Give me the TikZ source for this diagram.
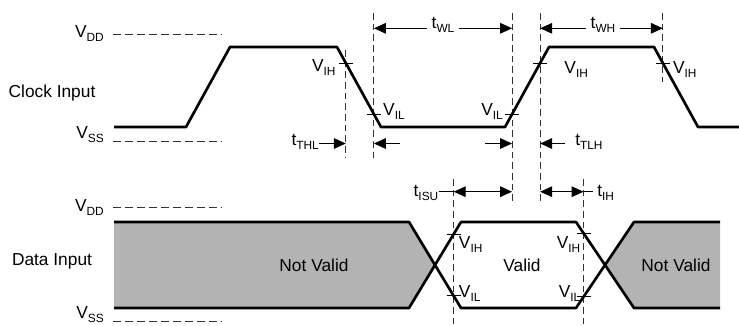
\documentclass[tikz,border=0pt]{standalone}
\usepackage{fontspec}
\setmainfont{Liberation Sans}
\usetikzlibrary{arrows.meta,calc}

\definecolor{notvalid}{RGB}{179,179,179}
\newcommand{\tsub}[2]{#1\raisebox{-3pt}{\fontsize{8.9}{9}\selectfont #2}}

\begin{document}
\begin{tikzpicture}[x=0.75pt, y=-0.75pt, line join=round, font=\fontsize{13}{15}\selectfont]

%---- STYLES ----
\tikzset{
    wave/.style={line width=2pt},
    level/.style={black!80, line width=0.75pt, dash pattern=on 6pt off 3pt},
    guide/.style={black!80, line width=0.75pt, dash pattern=on 5pt off 3pt},
    tick/.style={line width=0.75pt},
    dim/.style={line width=0.75pt, -{Triangle[length=9pt,width=8pt]}},
    dimboth/.style={line width=0.75pt, {Triangle[length=9pt,width=8pt]}-{Triangle[length=9pt,width=8pt]}},
    lbl/.style={inner sep=0pt},
    dlbl/.style={inner xsep=3pt, inner ysep=0pt},
}

\useasboundingbox (0,0) rectangle (739,325);

% LEVELS
\def\ckH{47}  \def\ckL{127}
\def\dtH{222} \def\dtL{308}
\def\rowW{28.3} \def\rowT{143.5} \def\rowS{191.7}

%---- CLOCK EDGES ----
\coordinate (r0a) at (186,\ckL); \coordinate (r0b) at (230,\ckH);
\coordinate (f1a) at (337,\ckH); \coordinate (f1b) at (381,\ckL);
\coordinate (r1a) at (505,\ckL); \coordinate (r1b) at (549,\ckH);
\coordinate (f2a) at (654,\ckH); \coordinate (f2b) at (698,\ckL);

% threshold crossings
\coordinate (f1ih) at ($(f1a)!0.2!(f1b)$);
\coordinate (f1il) at ($(f1a)!0.84!(f1b)$);
\coordinate (r1il) at ($(r1a)!0.16!(r1b)$);
\coordinate (r1ih) at ($(r1a)!0.8!(r1b)$);
\coordinate (f2ih) at ($(f2a)!0.2!(f2b)$);

%---- DATA EDGES ----
\coordinate (d1a) at (409,\dtH); \coordinate (d1d) at (409,\dtL);
\coordinate (d1c) at (461,\dtH); \coordinate (d1b) at (461,\dtL);
\coordinate (d1x) at (435,265);
\coordinate (d2a) at (576,\dtH); \coordinate (d2d) at (576,\dtL);
\coordinate (d2c) at (634,\dtH); \coordinate (d2b) at (634,\dtL);
\coordinate (d2x) at (605,265);

\coordinate (dih) at ($(d1d)!0.86!(d1c)$);
\coordinate (dil) at ($(d1a)!0.86!(d1b)$);
\coordinate (eih) at ($(d2a)!0.13!(d2b)$);
\coordinate (eil) at ($(d2d)!0.13!(d2c)$);

%---- GRAY (NOT VALID) ----
\fill[notvalid] (114,\dtH) -- (d1a) -- (d1x) -- (d1d) -- (114,\dtL) -- cycle;
\fill[notvalid] (720,\dtH) -- (d2c) -- (d2x) -- (d2b) -- (720,\dtL) -- cycle;

%---- GUIDES ----
\draw[guide] (f1ih |- 0,50) -- (f1ih |- 0,158);
\draw[guide] (f1il |- 0,13) -- (f1il |- 0,158);
\draw[guide] (r1il |- 0,13) -- (r1il |- 0,205);
\draw[guide] (r1ih |- 0,13) -- (r1ih |- 0,205);
\draw[guide] (f2ih |- 0,13) -- (f2ih |- 0,82);
\draw[guide] (dih |- 0,179) -- (dih |- 0,325);
\draw[guide] (eih |- 0,179) -- (eih |- 0,325);

%---- WAVES ----
\draw[wave] (114,\ckL) -- (r0a) -- (r0b) -- (f1a) -- (f1b) -- (r1a) -- (r1b) -- (f2a) -- (f2b) -- (739,\ckL);
\draw[wave] (114,\dtH) -- (d1a) -- (d1b) -- (d2d) -- (d2c) -- (720,\dtH);
\draw[wave] (114,\dtL) -- (d1d) -- (d1c) -- (d2a) -- (d2b) -- (720,\dtL);

% ticks
\foreach \p in {f1ih,f1il,r1il,r1ih,f2ih,dih,dil,eih,eil}
    \draw[tick] ($(\p)+(-7,0)$) -- ($(\p)+(7,0)$);

%---- SUPPLY LEVELS ----
\node[lbl, anchor=base east] (vdd1) at (104,37) {\tsub{V}{DD}};
\node[lbl, anchor=base east] (vss1) at (104,138.3) {\tsub{V}{SS}};
\node[lbl, anchor=base east] (vdd2) at (104,211.7) {\tsub{V}{DD}};
\node[lbl, anchor=base east] (vss2) at (104,318.3) {\tsub{V}{SS}};
\draw[level] (113,34.5) -- (222,34.5);
\draw[level] (113,141.7) -- (222,141.7);
\draw[level] (113,207.3) -- (222,207.3);
\draw[level] (113,321.7) -- (222,321.7);

\node[lbl, anchor=base] (clk) at (52,97) {Clock Input};
\node[lbl, anchor=base] (dat) at (52,265.7) {Data Input};

%---- THRESHOLD LABELS ----
\node[lbl, anchor=base east] (vih1) at ($(f1ih)+(-10,8)$) {\tsub{V}{IH}};
\node[lbl, anchor=base west] (vil1) at ($(f1il)+(9,1)$) {\tsub{V}{IL}};
\node[lbl, anchor=base east] (vil2) at ($(r1il)+(-9,1)$) {\tsub{V}{IL}};
\node[lbl, anchor=base west] (vih2) at ($(r1ih)+(24,10)$) {\tsub{V}{IH}};
\node[lbl, anchor=base west] (vih3) at ($(f2ih)+(10,10)$) {\tsub{V}{IH}};
\node[lbl, anchor=base west] (vih4) at ($(dih)+(5,14)$) {\tsub{V}{IH}};
\node[lbl, anchor=base west] (vil4) at ($(dil)+(5,1.5)$) {\tsub{V}{IL}};
\node[lbl, anchor=base east] (vih5) at ($(eih)+(-3,15)$) {\tsub{V}{IH}};
\node[lbl, anchor=base east] (vil5) at ($(eil)+(-3,1)$) {\tsub{V}{IL}};

\node (nv1) at (314,265) {Not Valid};
\node (val) at (522,265) {Valid};
\node (nv2) at (676,265) {Not Valid};

%---- PULSE WIDTHS ----
\node[dlbl] (twl) at (443,25) {\tsub{t}{WL}};
\node[dlbl] (twh) at (603,25) {\tsub{t}{WH}};
\draw[dim] (twl.west |- 0,\rowW) -- (f1il |- 0,\rowW);
\draw[dim] (twl.east |- 0,\rowW) -- (r1il |- 0,\rowW);
\draw[dim] (twh.west |- 0,\rowW) -- (r1ih |- 0,\rowW);
\draw[dim] (twh.east |- 0,\rowW) -- (f2ih |- 0,\rowW);

%---- TRANSITION TIMES ----
\node[lbl, anchor=east] (tthl) at (319,142) {\tsub{t}{THL}};
\node[lbl, anchor=west] (ttlh) at (575,142) {\tsub{t}{TLH}};
\coordinate (thlR) at (400,\rowT);
\coordinate (tlhL) at (485,\rowT);
\coordinate (tlhR) at (565,\rowT);
\draw[dim] (tthl.east |- thlR) -- (f1ih |- thlR);
\draw[dim] (thlR) -- (f1il |- thlR);
\draw[dim] (tlhL) -- (r1il |- tlhL);
\draw[dim] (tlhR) -- (r1ih |- tlhR);

%---- SETUP / HOLD ----
\node[lbl, anchor=east] (tisu) at (438.5,193) {\tsub{t}{ISU}};
\node[dlbl, anchor=west] (tih) at (593,193) {\tsub{t}{IH}};
\draw[line width=0.75pt] (tisu.east |- 0,\rowS) -- (dih |- 0,\rowS);
\draw[dimboth] (dih |- 0,\rowS) -- (r1il |- 0,\rowS);
\draw[dimboth] (r1ih |- 0,\rowS) -- (eih |- 0,\rowS);
\draw[line width=0.75pt] (eih |- 0,\rowS) -- (tih.west |- 0,\rowS);

\end{tikzpicture}
\end{document}
